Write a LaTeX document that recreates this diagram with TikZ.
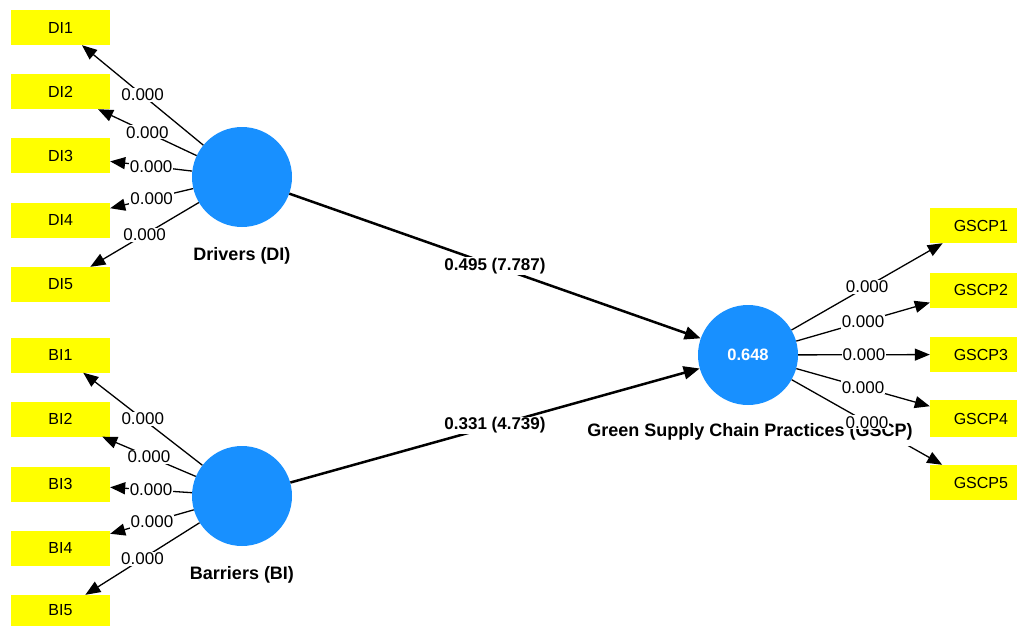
\documentclass[tikz,border=0pt]{standalone}
\usepackage{fontspec}
\setmainfont{Liberation Sans}
\usetikzlibrary{arrows.meta}
\definecolor{lvblue}{RGB}{24,144,255}
\definecolor{indyellow}{RGB}{255,255,0}
\begin{document}
\begin{tikzpicture}[x=1pt,y=-1pt,
  ibox/.style={fill=indyellow, minimum width=99pt, minimum height=35pt, inner sep=0pt, font=\fontsize{16}{18}\selectfont},
  gbox/.style={fill=indyellow, minimum height=35pt, text width=69pt, inner xsep=9pt, inner ysep=0pt, align=right, font=\fontsize{16}{18}\selectfont},
  lv/.style={circle, fill=lvblue, minimum size=100pt, inner sep=0pt},
  loadarrow/.style={draw=black, line width=1.3pt, -{Triangle[length=15pt,width=12pt]}},
  structarrow/.style={draw=black, line width=2.5pt, -{Triangle[length=16pt,width=13pt]}},
  lbl/.style={fill=white, inner sep=1pt, pos=0.5, font=\fontsize{17}{19}\selectfont},
  slbl/.style={fill=white, inner sep=1pt, pos=0.5, font=\bfseries\fontsize{17}{19}\selectfont},
  lvname/.style={font=\bfseries\fontsize{18}{20}\selectfont}]
\useasboundingbox (0,0) rectangle (1018,626);
% indicator boxes
\node[ibox] (DI1) at (60.5,27.5) {DI1};
\node[ibox] (DI2) at (60.5,91.5) {DI2};
\node[ibox] (DI3) at (60.5,155.5) {DI3};
\node[ibox] (DI4) at (60.5,220) {DI4};
\node[ibox] (DI5) at (60.5,284.5) {DI5};
\node[ibox] (BI1) at (60.5,355) {BI1};
\node[ibox] (BI2) at (60.5,419) {BI2};
\node[ibox] (BI3) at (60.5,484) {BI3};
\node[ibox] (BI4) at (60.5,548) {BI4};
\node[ibox, minimum height=31pt] (BI5) at (60.5,610.5) {BI5};
\node[gbox] (G1) at (973.5,225.5) {GSCP1};
\node[gbox] (G2) at (973.5,290) {GSCP2};
\node[gbox] (G3) at (973.5,354.5) {GSCP3};
\node[gbox, minimum height=37pt] (G4) at (973.5,418.5) {GSCP4};
\node[gbox] (G5) at (973.5,482.5) {GSCP5};
% latent variables
\node[lv] (DI) at (242,177) {};
\node[lv] (BI) at (242,496) {};
\node[lv, text=white, font=\bfseries\fontsize{16.5}{18}\selectfont] (GSCP) at (748,355) {0.648};
\node[lvname] (DIname) at (242,256) {Drivers (DI)};
\node[lvname] (BIname) at (242,575) {Barriers (BI)};
% loadings
\draw[loadarrow] (DI) -- node[lbl]{0.000} (DI1);
\draw[loadarrow] (DI) -- node[lbl]{0.000} (DI2);
\draw[loadarrow] (DI) -- node[lbl]{0.000} (DI3);
\draw[loadarrow] (DI) -- node[lbl]{0.000} (DI4);
\draw[loadarrow] (DI) -- node[lbl]{0.000} (DI5);
\draw[loadarrow] (BI) -- node[lbl]{0.000} (BI1);
\draw[loadarrow] (BI) -- node[lbl]{0.000} (BI2);
\draw[loadarrow] (BI) -- node[lbl]{0.000} (BI3);
\draw[loadarrow] (BI) -- node[lbl]{0.000} (BI4);
\draw[loadarrow] (BI) -- node[lbl]{0.000} (BI5);
\draw[loadarrow] (GSCP) -- node[lbl]{0.000} (G1);
\draw[loadarrow] (GSCP) -- node[lbl]{0.000} (G2);
\draw[loadarrow] (GSCP) -- node[lbl]{0.000} (G3);
\draw[loadarrow] (GSCP) -- node[lbl]{0.000} (G4);
\draw[loadarrow] (GSCP) -- (G5);
% structural paths
\draw[structarrow] (DI) -- node[slbl]{0.495 (7.787)} (GSCP);
\draw[structarrow] (BI) -- node[slbl]{0.331 (4.739)} (GSCP);
% GSCP name with white background
\node[lvname, fill=white, inner xsep=17pt, minimum height=28pt] (GSCPname) at (750,432) {Green Supply Chain Practices (GSCP)};
\path (GSCP) -- node[lbl]{0.000} (G5);
\end{tikzpicture}
\end{document}
